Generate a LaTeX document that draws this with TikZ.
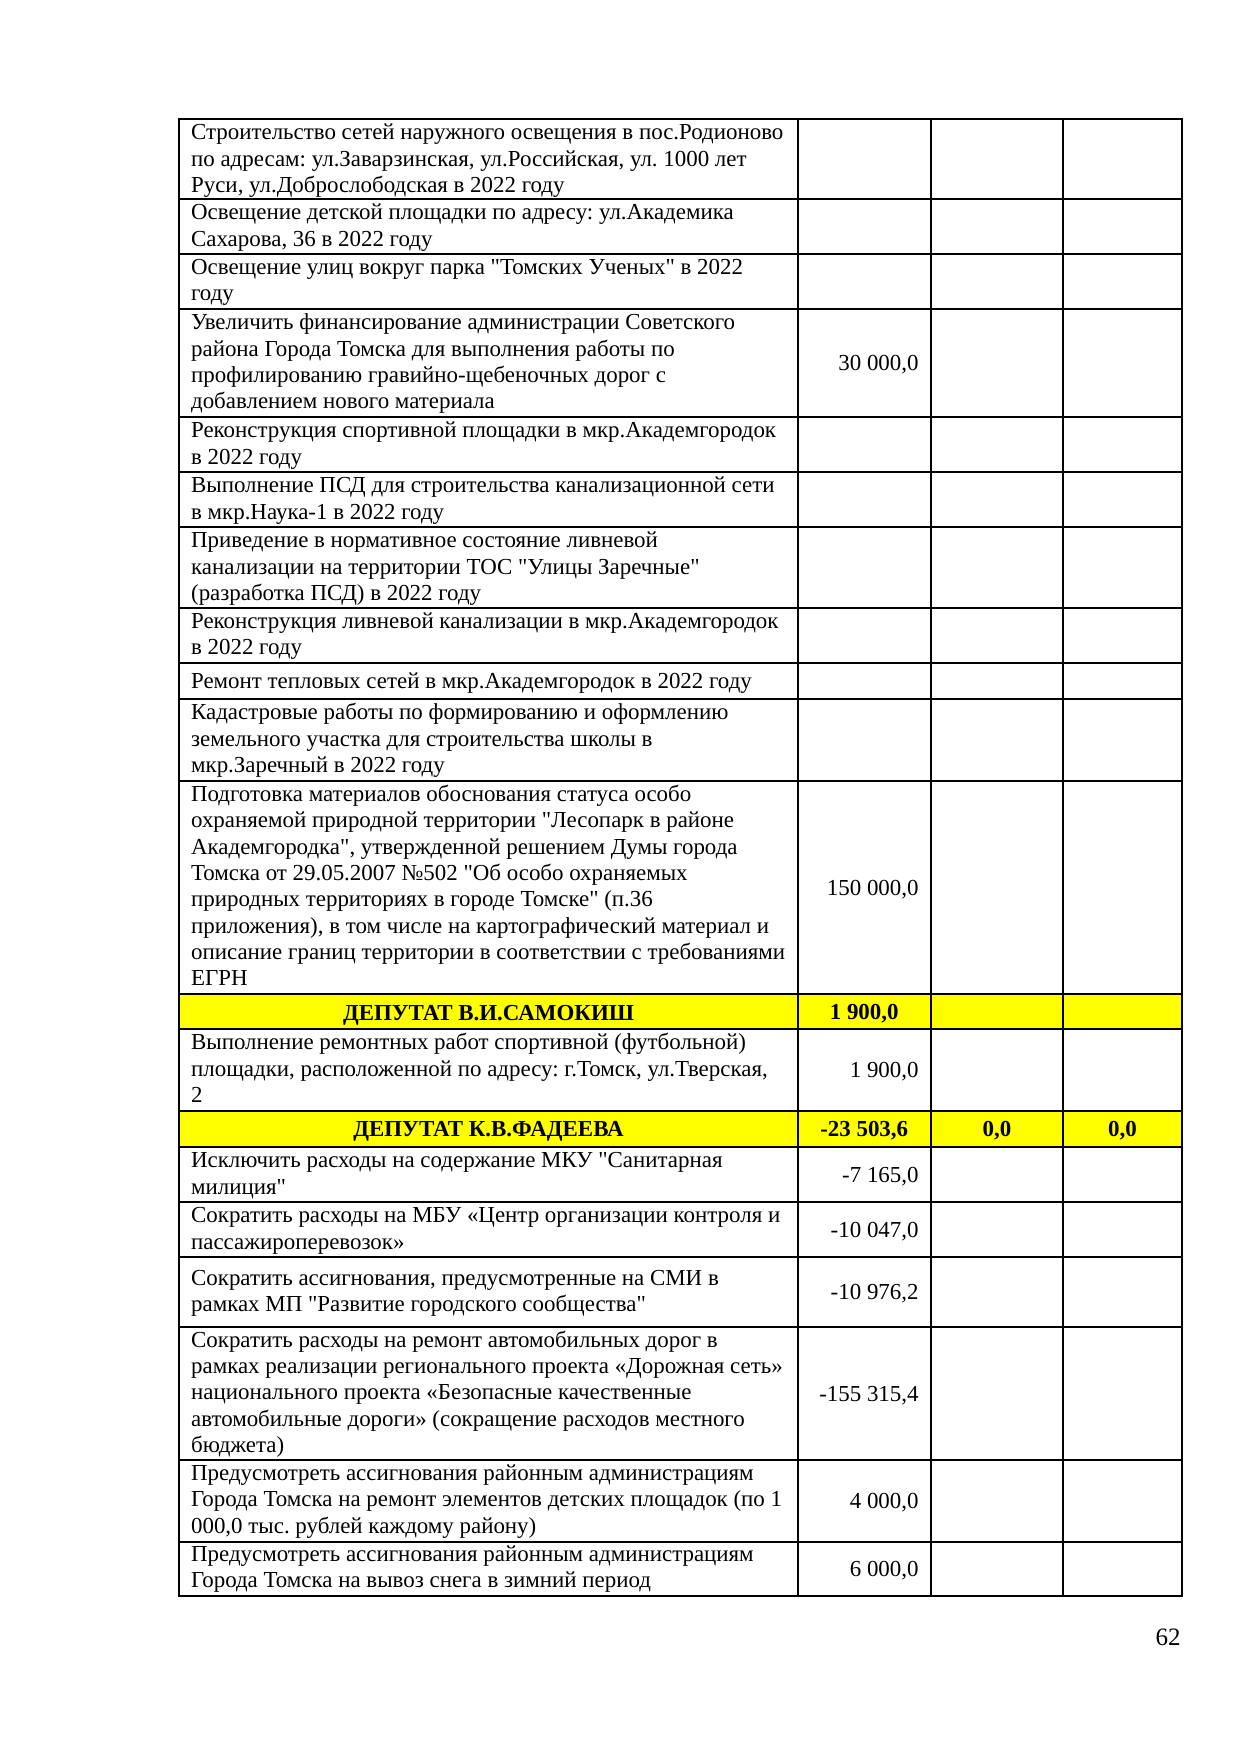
\documentclass[tikz,border=0pt]{standalone}
\usepackage{fontspec}
\setmainfont{Liberation Serif}[Ligatures=TeXOff]
\definecolor{hlyellow}{RGB}{255,255,0}
\newcommand\celltxt[3]{%
  \foreach \ln [count=\nn from 0] in {#3} {%
    \node[txt] (#1-\nn) at (190.7, {#2+26.3*\nn}) {\ln};
  }%
}
\begin{document}
\frenchspacing
\begin{tikzpicture}[x=0.48pt,y=-0.48pt,
  txt/.style={anchor=base west,inner sep=0pt,font=\fontsize{11pt}{12.63pt}\selectfont},
  num/.style={anchor=base east,inner sep=0pt,font=\fontsize{11pt}{12.63pt}\selectfont},
  hdr/.style={anchor=base,inner sep=0pt,font=\fontsize{11pt}{12.63pt}\selectfont\bfseries},
  pgn/.style={anchor=base east,inner sep=0pt,font=\fontsize{12pt}{13.8pt}\selectfont},
  gridline/.style={line width=0.96pt,draw=black,line cap=rect},
  band/.style={fill=hlyellow}]
\useasboundingbox (0,0) rectangle (1240,1754);
\def\xa{179.3}\def\xb{797.7}\def\xc{930.7}\def\xd{1063.3}\def\xe{1181.7}
% yellow bands
\fill[band] (\xa,994) rectangle (\xe,1029.3);
\fill[band] (\xa,1111) rectangle (\xe,1147.3);
% grid
\foreach \yy in {119.3,199.3,254,309.3,417.3,472.3,527.3,608,662.7,699.3,780.7,994,1029.3,1111,1147.3,1202.3,1257.3,1326.7,1460,1541.7,1596}
  \draw[gridline] (\xa,\yy) -- (\xe,\yy);
\foreach \xx in {\xa,\xb,\xc,\xd,\xe}
  \draw[gridline] (\xx,119.3) -- (\xx,1596);
% texts
\celltxt{r1}{139.8}{{Строительство сетей наружного освещения в пос.Родионово},{по адресам: ул.Заварзинская, ул.Российская, ул. 1000 лет},{Руси, ул.Доброслободская в 2022 году}}
\celltxt{r2}{219.8}{{Освещение детской площадки по адресу: ул.Академика},{Сахарова, 36 в 2022 году}}
\celltxt{r3}{274.5}{{Освещение улиц вокруг парка "Томских Ученых" в 2022},{году}}
\celltxt{r4}{329.8}{{Увеличить финансирование администрации Советского},{района Города Томска для выполнения работы по},{профилированию гравийно-щебеночных дорог с},{добавлением нового материала}}
\celltxt{r5}{437.8}{{Реконструкция спортивной площадки в мкр.Академгородок},{в 2022 году}}
\celltxt{r6}{492.8}{{Выполнение ПСД для строительства канализационной сети},{в мкр.Наука-1 в 2022 году}}
\celltxt{r7}{547.8}{{Приведение в нормативное состояние ливневой},{канализации на территории ТОС "Улицы Заречные"},{(разработка ПСД) в 2022 году}}
\celltxt{r8}{628.5}{{Реконструкция ливневой канализации в мкр.Академгородок},{в 2022 году}}
\celltxt{r9}{688}{{Ремонт тепловых сетей в мкр.Академгородок в 2022 году}}
\celltxt{r10}{719.8}{{Кадастровые работы по формированию и оформлению},{земельного участка для строительства школы в},{мкр.Заречный в 2022 году}}
\celltxt{r11}{801.5}{{Подготовка материалов обоснования статуса особо},{охраняемой природной территории "Лесопарк в районе},{Академгородка", утвержденной решением Думы города},{Томска от 29.05.2007 №502 "Об особо охраняемых},{природных территориях в городе Томске" (п.36},{приложения), в том числе на картографический материал и},{описание границ территории в соответствии с требованиями},{ЕГРН}}
\celltxt{r13}{1049.8}{{Выполнение ремонтных работ спортивной (футбольной)},{площадки, расположенной по адресу: г.Томск, ул.Тверская,},{2}}
\celltxt{r15}{1167.8}{{Исключить расходы на содержание МКУ "Санитарная},{милиция"}}
\celltxt{r16}{1222.8}{{Сократить расходы на МБУ «Центр организации контроля и},{пассажироперевозок»}}
\celltxt{r17}{1285.5}{{Сократить ассигнования, предусмотренные на СМИ в},{рамках МП "Развитие городского сообщества"}}
\celltxt{r18}{1347.2}{{Сократить расходы на ремонт автомобильных дорог в},{рамках реализации регионального проекта «Дорожная сеть»},{национального проекта «Безопасные качественные},{автомобильные дороги» (сокращение расходов местного},{бюджета)}}
\celltxt{r19}{1480.5}{{Предусмотреть ассигнования районным администрациям},{Города Томска на ремонт элементов детских площадок (по 1},{000,0 тыс. рублей каждому району)}}
\celltxt{r20}{1561.5}{{Предусмотреть ассигнования районным администрациям},{Города Томска на вывоз снега в зимний период}}
% headers
\node[hdr] (h12) at (488.5,1020) {ДЕПУТАТ В.И.САМОКИШ};
\node[hdr] (h14) at (488.5,1136.7) {ДЕПУТАТ К.В.ФАДЕЕВА};
\node[hdr] (h12b) at (864.2,1019.5) {1 900,0};
\node[hdr] (h14b) at (864.2,1136.7) {-23 503,6};
\node[hdr] (h14c) at (997,1136.7) {0,0};
\node[hdr] (h14d) at (1122.5,1136.7) {0,0};
% numbers
\node[num] (n4) at (919,370.9) {30 000,0};
\node[num] (n11) at (919,895) {150 000,0};
\node[num] (n13) at (919,1077.8) {1 900,0};
\node[num] (n15) at (919,1182.4) {-7 165,0};
\node[num] (n16) at (919,1237.4) {-10 047,0};
\node[num] (n17) at (919,1299) {-10 976,2};
\node[num] (n18) at (919,1401) {-155 315,4};
\node[num] (n19) at (919,1508.5) {4 000,0};
\node[num] (n20) at (919,1576.5) {6 000,0};
% page number
\node[pgn] (pg) at (1181,1645) {62};
\end{tikzpicture}
\end{document}
